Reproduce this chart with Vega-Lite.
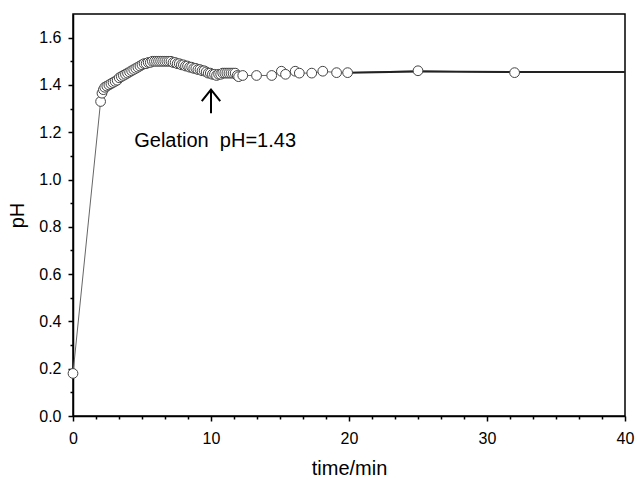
{
  "$schema": "https://vega.github.io/schema/vega-lite/v6.json",
  "width": 552,
  "height": 402,
  "autosize": {"type": "none"},
  "padding": {"left": 73, "top": 14, "right": 10, "bottom": 61},
  "background": "white",
  "config": {
    "font": "Liberation Sans",
    "view": {"stroke": "black", "strokeWidth": 1.5},
    "axis": {"grid": false, "domainColor": "black", "domainWidth": 1.5, "tickColor": "black", "tickWidth": 1.5, "labelColor": "black", "titleColor": "black", "labelFont": "Liberation Sans", "titleFont": "Liberation Sans", "labelFontSize": 16, "titleFontSize": 20, "titleFontWeight": "normal"}
  },
  "datasets": {
    "measured": [
      {"t": 0, "pH": 0.18}, {"t": 2.0, "pH": 1.33}, {"t": 2.1, "pH": 1.365}, {"t": 2.2, "pH": 1.38}, {"t": 2.3, "pH": 1.39},
      {"t": 2.45, "pH": 1.395}, {"t": 2.6, "pH": 1.4}, {"t": 2.75, "pH": 1.405}, {"t": 2.9, "pH": 1.41}, {"t": 3.05, "pH": 1.415},
      {"t": 3.2, "pH": 1.42}, {"t": 3.35, "pH": 1.43}, {"t": 3.5, "pH": 1.435}, {"t": 3.65, "pH": 1.44}, {"t": 3.8, "pH": 1.445},
      {"t": 3.95, "pH": 1.45}, {"t": 4.1, "pH": 1.455}, {"t": 4.25, "pH": 1.46}, {"t": 4.4, "pH": 1.465}, {"t": 4.55, "pH": 1.47},
      {"t": 4.7, "pH": 1.475}, {"t": 4.85, "pH": 1.48}, {"t": 5.0, "pH": 1.485}, {"t": 5.15, "pH": 1.49}, {"t": 5.3, "pH": 1.49},
      {"t": 5.45, "pH": 1.495}, {"t": 5.6, "pH": 1.495}, {"t": 5.75, "pH": 1.5}, {"t": 5.9, "pH": 1.5}, {"t": 6.05, "pH": 1.5},
      {"t": 6.2, "pH": 1.5}, {"t": 6.35, "pH": 1.5}, {"t": 6.5, "pH": 1.5}, {"t": 6.65, "pH": 1.5}, {"t": 6.8, "pH": 1.5},
      {"t": 6.95, "pH": 1.5}, {"t": 7.1, "pH": 1.5}, {"t": 7.25, "pH": 1.495}, {"t": 7.4, "pH": 1.495}, {"t": 7.55, "pH": 1.49},
      {"t": 7.7, "pH": 1.49}, {"t": 7.85, "pH": 1.485}, {"t": 8.0, "pH": 1.485}, {"t": 8.15, "pH": 1.48}, {"t": 8.3, "pH": 1.48},
      {"t": 8.45, "pH": 1.475}, {"t": 8.6, "pH": 1.475}, {"t": 8.75, "pH": 1.47}, {"t": 8.9, "pH": 1.47}, {"t": 9.05, "pH": 1.465},
      {"t": 9.2, "pH": 1.465}, {"t": 9.35, "pH": 1.46}, {"t": 9.5, "pH": 1.46}, {"t": 9.65, "pH": 1.455}, {"t": 9.8, "pH": 1.45},
      {"t": 9.95, "pH": 1.45}, {"t": 10.1, "pH": 1.445}, {"t": 10.25, "pH": 1.445}, {"t": 10.4, "pH": 1.44}, {"t": 10.55, "pH": 1.445},
      {"t": 10.7, "pH": 1.445}, {"t": 10.85, "pH": 1.45}, {"t": 11.0, "pH": 1.45}, {"t": 11.15, "pH": 1.45}, {"t": 11.3, "pH": 1.45},
      {"t": 11.45, "pH": 1.45}, {"t": 11.6, "pH": 1.45}, {"t": 11.75, "pH": 1.45}, {"t": 11.9, "pH": 1.44}, {"t": 12.0, "pH": 1.435},
      {"t": 12.3, "pH": 1.44}, {"t": 13.3, "pH": 1.44}, {"t": 14.4, "pH": 1.44}, {"t": 15.1, "pH": 1.458}, {"t": 15.4, "pH": 1.445},
      {"t": 16.1, "pH": 1.458}, {"t": 16.4, "pH": 1.45}, {"t": 17.3, "pH": 1.45}, {"t": 18.1, "pH": 1.458}, {"t": 19.1, "pH": 1.452},
      {"t": 19.9, "pH": 1.452}, {"t": 25.0, "pH": 1.46}, {"t": 32.0, "pH": 1.452}
    ],
    "tail": [
      {"t": 19.9, "pH": 1.452}, {"t": 25.0, "pH": 1.457}, {"t": 32.0, "pH": 1.455}, {"t": 40.0, "pH": 1.455}
    ],
    "arrow": [{"t": 10, "y1": 1.28, "y2": 1.38}],
    "label": [{"t": 10.3, "pH": 1.165, "text": "Gelation\u00a0\u00a0pH=1.43"}]
  },
  "resolve": {"axis": {"x": "independent", "y": "independent"}},
  "layer": [
    {
      "data": {"name": "measured"},
      "mark": {"type": "line", "color": "#666666", "strokeWidth": 1},
      "encoding": {
        "x": {"field": "t", "type": "quantitative", "scale": {"domain": [0, 40], "nice": false, "zero": false},
              "axis": {"orient": "bottom", "title": "time/min", "values": [0, 10, 20, 30, 40], "tickSize": 5, "labelPadding": 9, "titlePadding": 12, "labelFlush": false}},
        "y": {"field": "pH", "type": "quantitative", "scale": {"domain": [0, 1.7], "nice": false},
              "axis": {"orient": "left", "title": "pH", "values": [0, 0.2, 0.4, 0.6, 0.8, 1.0, 1.2, 1.4, 1.6], "format": ".1f", "tickSize": 5, "labelPadding": 7, "titlePadding": 11, "labelFlush": false}}
      }
    },
    {
      "data": {"name": "tail"},
      "mark": {"type": "line", "color": "#222222", "strokeWidth": 2},
      "encoding": {
        "x": {"field": "t", "type": "quantitative",
              "axis": {"orient": "bottom", "title": null, "labels": false, "domain": false, "tickSize": 3, "values": [1.6667, 3.3333, 5, 6.6667, 8.3333, 11.6667, 13.3333, 15, 16.6667, 18.3333, 21.6667, 23.3333, 25, 26.6667, 28.3333, 31.6667, 33.3333, 35, 36.6667, 38.3333]}},
        "y": {"field": "pH", "type": "quantitative",
              "axis": {"orient": "left", "title": null, "labels": false, "domain": false, "tickSize": 3, "values": [0.1, 0.3, 0.5, 0.7, 0.9, 1.1, 1.3, 1.5]}}
      }
    },
    {
      "data": {"name": "measured"},
      "mark": {"type": "point", "shape": "circle", "filled": false, "fill": "white", "fillOpacity": 1, "stroke": "#444444", "strokeWidth": 1, "opacity": 1, "size": 95},
      "encoding": {
        "x": {"field": "t", "type": "quantitative", "axis": null},
        "y": {"field": "pH", "type": "quantitative", "axis": null}
      }
    },
    {
      "data": {"name": "arrow"},
      "mark": {"type": "rule", "color": "black", "strokeWidth": 2},
      "encoding": {
        "x": {"field": "t", "type": "quantitative", "axis": null},
        "y": {"field": "y1", "type": "quantitative", "axis": null},
        "y2": {"field": "y2"}
      }
    },
    {
      "data": {"name": "arrow"},
      "mark": {"type": "point", "shape": "M-1,1.25L0,0L1,1.25", "filled": false, "stroke": "black", "strokeWidth": 2, "opacity": 1, "size": 340},
      "encoding": {
        "x": {"field": "t", "type": "quantitative", "axis": null},
        "y": {"field": "y2", "type": "quantitative", "axis": null}
      }
    },
    {
      "data": {"name": "label"},
      "mark": {"type": "text", "fontSize": 20, "color": "black", "align": "center", "baseline": "middle", "font": "Liberation Sans"},
      "encoding": {
        "x": {"field": "t", "type": "quantitative", "axis": null},
        "y": {"field": "pH", "type": "quantitative", "axis": null},
        "text": {"field": "text"}
      }
    }
  ]
}
